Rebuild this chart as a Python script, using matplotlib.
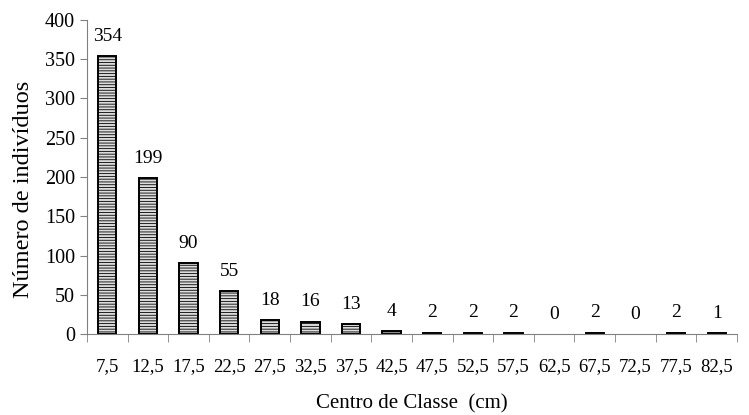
import matplotlib.pyplot as plt
import numpy as np

plt.rcParams['font.family'] = ['Liberation Serif', 'DejaVu Serif']
plt.rcParams['hatch.color'] = '#555555'
plt.rcParams['hatch.linewidth'] = 0.6

# Class centres and counts
classes = ["7,5", "12,5", "17,5", "22,5", "27,5", "32,5", "37,5", "42,5",
           "47,5", "52,5", "57,5", "62,5", "67,5", "72,5", "77,5", "82,5"]
counts = [354, 199, 90, 55, 18, 16, 13, 4, 2, 2, 2, 0, 2, 0, 2, 1]

fig = plt.figure(figsize=(7.49, 4.15), dpi=100)
ax = fig.add_axes([0.116, 0.195, 0.868, 0.757])

x = np.arange(len(classes))
bars = ax.bar(x, counts, width=0.45, color='#dcdcdc', edgecolor='black',
              linewidth=1.4, hatch='------')
for b, v in zip(bars, counts):
    if v == 0:
        b.set_visible(False)
    ax.annotate(str(v), (b.get_x() + b.get_width() / 2, v),
                xytext=(0, 8), textcoords='offset points',
                ha='center', va='bottom', fontsize=14)

ax.set_xlim(-0.5, len(classes) - 0.5)
ax.set_ylim(0, 400)
ax.set_yticks(range(0, 401, 50))
ax.tick_params(axis='y', labelsize=14.5, length=5, color='#808080')

# category labels centred, tick marks between categories
ax.set_xticks(x)
ax.set_xticklabels(classes, fontsize=13.5)
ax.tick_params(axis='x', which='major', length=0, pad=17)
ax.set_xticks(np.arange(-0.5, len(classes), 1), minor=True)
ax.tick_params(axis='x', which='minor', length=6, color='#808080')

for s in ['top', 'right']:
    ax.spines[s].set_visible(False)
for s in ['left', 'bottom']:
    ax.spines[s].set_color('#808080')

ax.set_xlabel("Centro de Classe  (cm)", fontsize=15, labelpad=14)
ax.set_ylabel("Número de indivíduos", fontsize=17.5)
ax.yaxis.set_label_coords(-0.082, 0.46)

fig.savefig("out.png", dpi=100)
